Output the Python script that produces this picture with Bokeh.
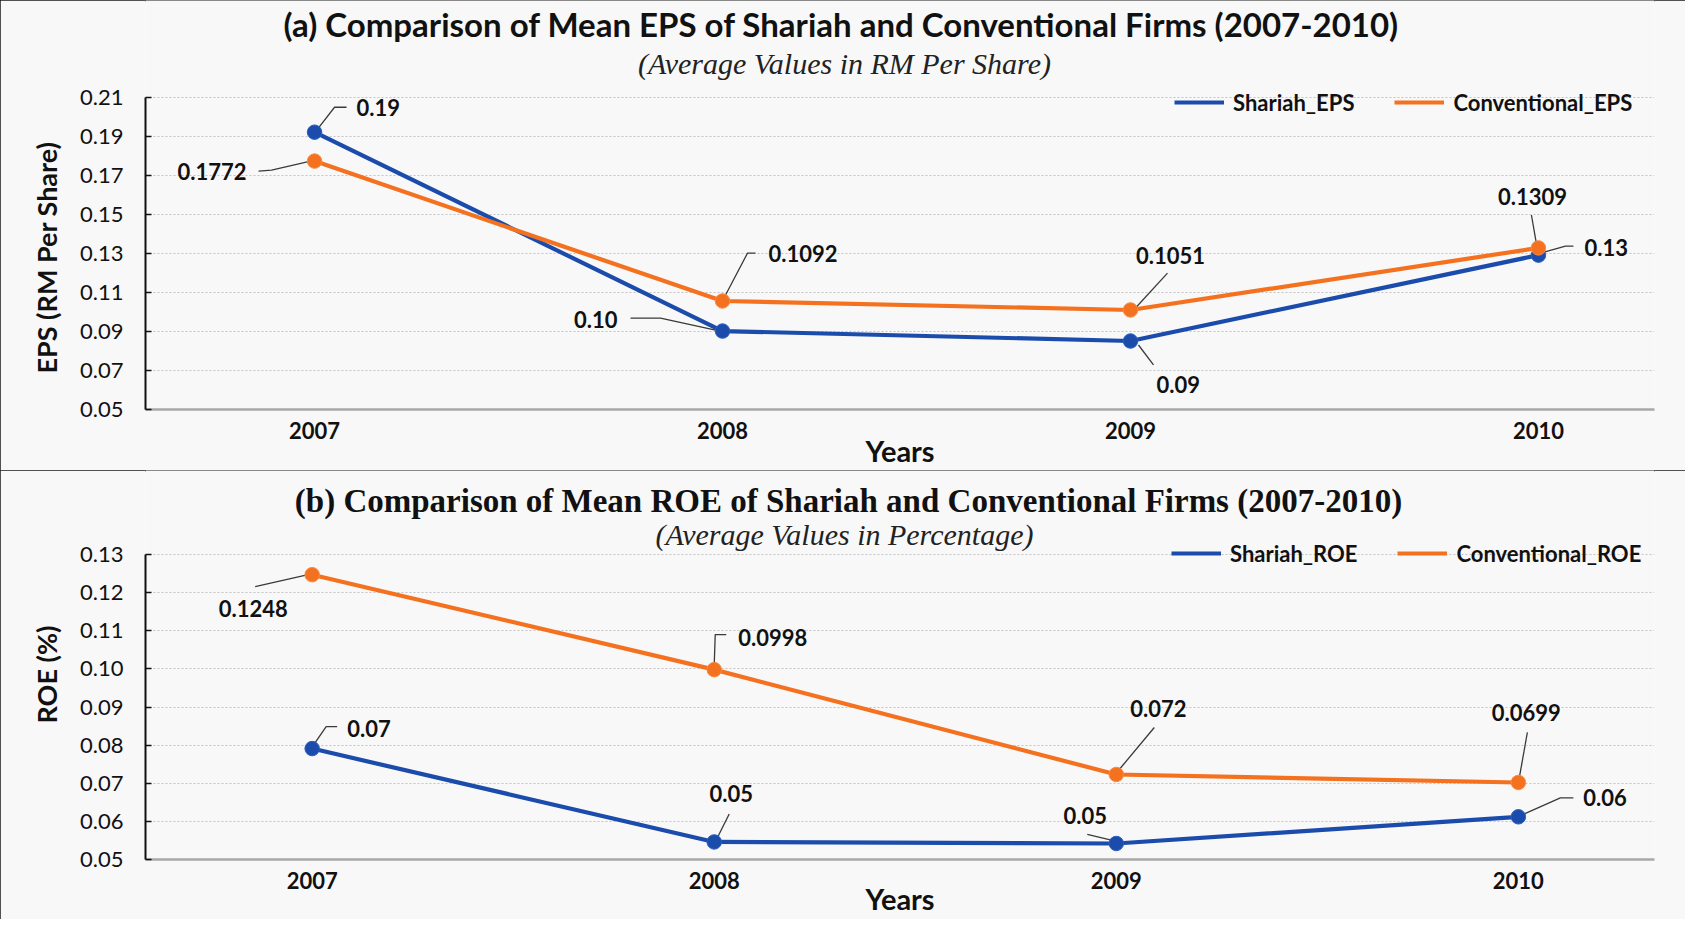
import math
from bokeh.plotting import figure
from bokeh.models import (ColumnDataSource, Range1d, FixedTicker, Label, Legend,
                          LegendItem, PrintfTickFormatter, Title)
from bokeh.layouts import column
from bokeh.core.properties import value, field
from bokeh.embed import file_html
from bokeh.resources import INLINE

# ---------------- data ----------------
years = [2007, 2008, 2009, 2010]
year_labels = ["2007", "2008", "2009", "2010"]

eps_shariah = [0.1921, 0.0902, 0.0851, 0.1291]
eps_conv = [0.1773, 0.1056, 0.1010, 0.1328]
eps_shariah_text = ["0.19", "0.10", "0.09", "0.13"]
eps_conv_text = ["0.1772", "0.1092", "0.1051", "0.1309"]
eps_ticks = [0.05, 0.07, 0.09, 0.11, 0.13, 0.15, 0.17, 0.19, 0.21]

roe_shariah = [0.0791, 0.0546, 0.0542, 0.0612]
roe_conv = [0.1247, 0.0998, 0.0723, 0.0702]
roe_shariah_text = ["0.07", "0.05", "0.05", "0.06"]
roe_conv_text = ["0.1248", "0.0998", "0.072", "0.0699"]
roe_ticks = [0.05, 0.06, 0.07, 0.08, 0.09, 0.10, 0.11, 0.12, 0.13]

# ---------------- label layout (pixel offsets from each point; +dy = down) ----------------
eps_s_lab = [("left", 42, -25), ("right", -105, -12), ("left", 26, 44), ("left", 46, -8)]
eps_c_lab = [("right", -68, 10), ("left", 46, -48), ("center", 40, -55), ("center", -6, -52)]
eps_s_lead = [[(3, -3), (20, -25), (32, -25)], [(-7, -1), (-62, -13), (-92, -13)],
              [(8, 4), (23, 24)], [(2, -2), (27, -9), (35, -9)]]
eps_c_lead = [[(-4, 0), (-43, 9), (-56, 10)], [(2, -4), (25, -48), (33, -48)],
              [(5, -2), (37, -37)], [(-2, -4), (-7, -33)]]

roe_s_lab = [("left", 35, -20), ("center", 17, -48), ("center", -31, -28), ("left", 65, -19)]
roe_c_lab = [("center", -59, 34), ("left", 24, -32), ("center", 42, -66), ("center", 8, -70)]
roe_s_lead = [[(3, -6), (14, -22), (25, -22)], [(4, -6), (15, -28)],
              [(-4, -3), (-29, -9)], [(6, -3), (42, -19), (55, -19)]]
roe_c_lead = [[(-4, 0), (-57, 12)], [(0, -5), (1, -35), (12, -35)],
              [(3, -5), (38, -47)], [(1, -5), (9, -50)]]

BLUE = "#1b4cab"
ORANGE = "#f4711f"
BG = "#f8f8f8"
W = 1685


def make_panel(height, plot_top, mb_bottom, x_range, y_lo, y_hi, ticks, s_vals, c_vals,
               s_txt, c_txt, s_lab, c_lab, s_lead, c_lead, names, ylabel, ylab_offset,
               title, title_font, title_xy, sub, sub_xy, years_standoff, legend_xy):
    mbl, mbr = 145, 31
    # the plotting frame reaches the top of the figure so that titles and legend fit inside it
    ppy = (height - plot_top - mb_bottom) / (y_hi - y_lo)
    y_top = y_hi + plot_top / ppy
    p = figure(width=W, height=height, output_backend="svg", toolbar_location=None,
               x_range=Range1d(*x_range), y_range=Range1d(y_lo, y_top),
               min_border_left=mbl, min_border_right=mbr,
               min_border_top=0, min_border_bottom=mb_bottom,
               background_fill_color=BG, border_fill_color=BG)
    p.outline_line_color = None
    p.styles = {"outline": "2px solid #1a1a1a", "outline-offset": "-2px"}

    fw = W - mbl - mbr
    ppx = fw / (x_range[1] - x_range[0])

    # grid
    p.xgrid.grid_line_color = None
    p.ygrid.ticker = FixedTicker(ticks=ticks)
    p.ygrid.grid_line_color = "#c4c4c4"
    p.ygrid.grid_line_dash = "2 2"
    p.ygrid.grid_line_width = 1

    # axes
    p.yaxis.bounds = (y_lo, y_hi)
    p.yaxis.ticker = FixedTicker(ticks=ticks)
    p.yaxis.formatter = PrintfTickFormatter(format="%.2f")
    p.yaxis.axis_line_color = "#111111"
    p.yaxis.axis_line_width = 2
    p.yaxis.major_tick_in = 6
    p.yaxis.major_tick_out = 0
    p.yaxis.major_tick_line_color = "#111111"
    p.yaxis.major_tick_line_width = 1.5
    p.yaxis.minor_tick_line_color = None
    p.yaxis.major_label_text_font = "Lato"
    p.yaxis.major_label_text_font_size = "22px"
    p.yaxis.major_label_text_color = "#111111"
    p.yaxis.major_label_standoff = 22

    # vertical axis title, placed beside the value range of the axis
    p.add_layout(Title(text=ylabel, align="left", offset=ylab_offset, standoff=30,
                       text_font="Lato", text_font_style="bold", text_font_size="27px",
                       text_color="#111111"), "left")

    p.xaxis.ticker = FixedTicker(ticks=years)
    p.xaxis.major_label_overrides = {y: l for y, l in zip(years, year_labels)}
    p.xaxis.axis_line_color = "#a8a8a8"
    p.xaxis.axis_line_width = 2.5
    p.xaxis.major_tick_line_color = None
    p.xaxis.minor_tick_line_color = None
    p.xaxis.major_label_text_font = "Lato"
    p.xaxis.major_label_text_font_style = "bold"
    p.xaxis.major_label_text_font_size = "22px"
    p.xaxis.major_label_text_color = "#111111"
    p.xaxis.major_label_standoff = 6
    p.xaxis.axis_label = "Years"
    p.xaxis.axis_label_text_font = "Lato"
    p.xaxis.axis_label_text_font_style = "bold"
    p.xaxis.axis_label_text_font_size = "29px"
    p.xaxis.axis_label_text_color = "#111111"
    p.xaxis.axis_label_standoff = years_standoff

    # lines
    r_s = p.line(years, s_vals, line_color=BLUE, line_width=4.2)
    r_c = p.line(years, c_vals, line_color=ORANGE, line_width=4.2)

    # leader lines
    xs, ys = [], []
    for vals, leads in ((s_vals, s_lead), (c_vals, c_lead)):
        for yr, v, pts in zip(years, vals, leads):
            xs.append([yr + dx / ppx for dx, dy in pts])
            ys.append([v - dy / ppy for dx, dy in pts])
    p.multi_line(xs, ys, line_color="#3a3a3a", line_width=1.3)

    p.scatter(years, s_vals, size=14.5, fill_color=BLUE, line_color="#2a5fc0", line_width=1)
    p.scatter(years, c_vals, size=14.5, fill_color=ORANGE, line_color="#f88a45", line_width=1)

    # value labels
    tx, ty, tt, ta = [], [], [], []
    for vals, txts, labs in ((s_vals, s_txt, s_lab), (c_vals, c_txt, c_lab)):
        for yr, v, t, (al, dx, dy) in zip(years, vals, txts, labs):
            tx.append(yr + dx / ppx)
            ty.append(v - dy / ppy)
            tt.append(t)
            ta.append(al)
    src = ColumnDataSource(dict(x=tx, y=ty, text=tt, align=ta))
    p.text(x="x", y="y", text="text", source=src, text_align=field("align"),
           text_baseline="middle", text_font=value("Lato"), text_font_style="bold",
           text_font_size="22px", text_color="#111111")

    # legend
    legend = Legend(items=[LegendItem(label=names[0], renderers=[r_s]),
                           LegendItem(label=names[1], renderers=[r_c])],
                    orientation="horizontal", location=legend_xy, padding=0, margin=0,
                    spacing=40, label_standoff=9, glyph_width=50, glyph_height=30,
                    label_height=30, background_fill_alpha=0, border_line_alpha=0,
                    label_text_font="Lato", label_text_font_style="bold",
                    label_text_font_size="22px", label_text_color="#111111")
    p.add_layout(legend)

    # titles (screen units relative to the frame's bottom-left corner)
    p.add_layout(Label(x=title_xy[0], y=title_xy[1], x_units="screen", y_units="screen",
                       text=title, text_align="center", text_baseline="middle",
                       text_font=title_font[0], text_font_style="bold",
                       text_font_size=title_font[1], text_color="#111111"))
    p.add_layout(Label(x=sub_xy[0], y=sub_xy[1], x_units="screen", y_units="screen",
                       text=sub, text_align="center", text_baseline="middle",
                       text_font="Liberation Serif", text_font_style="italic",
                       text_font_size="30px", text_color="#222222"))
    return p


p1 = make_panel(470, 97, 60, (2006.5856, 2010.2845), 0.05, 0.21, eps_ticks,
                eps_shariah, eps_conv, eps_shariah_text, eps_conv_text,
                eps_s_lab, eps_c_lab, eps_s_lead, eps_c_lead,
                ("Shariah_EPS", "Conventional_EPS"), "EPS (RM Per Share)", 36,
                "(a) Comparison of Mean EPS of Shariah and Conventional Firms (2007-2010)",
                ("Lato", "33px"), (696, 386), "(Average Values in RM Per Share)", (699, 346),
                -9, (1029, 292))

p2 = make_panel(449, 84, 60, (2006.5855, 2010.3386), 0.05, 0.13, roe_ticks,
                roe_shariah, roe_conv, roe_shariah_text, roe_conv_text,
                roe_s_lab, roe_c_lab, roe_s_lead, roe_c_lead,
                ("Shariah_ROE", "Conventional_ROE"), "ROE (%)", 136,
                "(b) Comparison of Mean ROE of Shariah and Conventional Firms (2007-2010)",
                ("Liberation Serif", "33px"), (703, 359), "(Average Values in Percentage)", (699, 325),
                -11, (1026, 291))

layout = column(p1, p2, spacing=0)
open("out.html", "w").write(file_html(layout, INLINE, "chart"))
